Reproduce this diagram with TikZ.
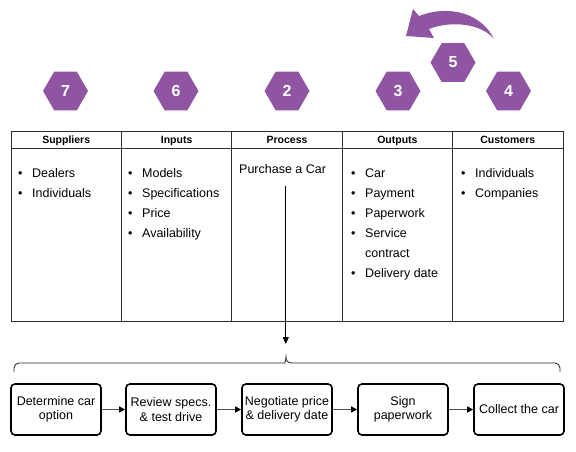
\documentclass[tikz,border=0pt]{standalone}
\usepackage{fontspec}
\setmainfont{Liberation Sans}
\usetikzlibrary{shapes.geometric,arrows.meta}
\definecolor{hexpurple}{RGB}{143,85,163}
\definecolor{tline}{RGB}{45,45,45}
\definecolor{flowgray}{RGB}{80,80,80}
\begin{document}
\begin{tikzpicture}[x=1pt,y=-1pt,
  hexnode/.style={regular polygon,regular polygon sides=6,minimum size=45pt,inner sep=0pt,
    fill=hexpurple,draw=none,text=white,font=\fontsize{16}{16}\selectfont\bfseries},
  hdrcell/.style={draw=tline,line width=0.9pt,minimum width=110.4pt,minimum height=17.5pt,inner sep=0pt,
    text height=7.5pt,text depth=0pt,font=\fontsize{10.5}{12}\selectfont\bfseries},
  bodycell/.style={draw=tline,line width=0.9pt,minimum width=110.4pt,minimum height=172.5pt,inner sep=0pt},
  listtext/.style={anchor=base west,inner sep=0pt,font=\fontsize{12.5}{20}\selectfont},
  stepbox/.style={draw=black,line width=1.6pt,rounded corners=4pt,minimum width=90pt,minimum height=51pt,
    inner sep=2pt,align=center,font=\fontsize{12.5}{14.5}\selectfont},
  flow/.style={draw=flowgray,line width=1pt,-{Triangle[length=6pt,width=6pt,color=black]}}]
\useasboundingbox (0,0) rectangle (576,451);

% hexagons
\node[hexnode] (h7) at (65.5,91) {7};
\node[hexnode] (h6) at (176,91) {6};
\node[hexnode] (h2) at (287,91) {2};
\node[hexnode] (h3) at (398,91) {3};
\node[hexnode] (h4) at (508.5,91) {4};
\node[hexnode] (h5) at (453,62.5) {5};

% curved arrow
\fill[hexpurple] (494,39) .. controls (482,14) and (450,4) .. (419,16)
  -- (413,9) -- (406,36) -- (434,38) -- (429,29)
  .. controls (452,20) and (482,24) .. (494,39) -- cycle;

% table header
\node[hdrcell] (c1h) at (66.2,139.75) {Suppliers};
\node[hdrcell] (c2h) at (176.6,139.75) {Inputs};
\node[hdrcell] (c3h) at (287,139.75) {Process};
\node[hdrcell] (c4h) at (397.4,139.75) {Outputs};
\node[hdrcell] (c5h) at (507.8,139.75) {Customers};
% table body
\node[bodycell] (c1b) at (66.2,234.75) {};
\node[bodycell] (c2b) at (176.6,234.75) {};
\node[bodycell] (c3b) at (287,234.75) {};
\node[bodycell] (c4b) at (397.4,234.75) {};
\node[bodycell] (c5b) at (507.8,234.75) {};

\node[listtext] (l1) at (18,177) {\begin{tabular}[t]{@{}l@{\hspace{9.6pt}}l@{}}•&Dealers\\•&Individuals\end{tabular}};
\node[listtext] (l2) at (128,177) {\begin{tabular}[t]{@{}l@{\hspace{9.6pt}}l@{}}•&Models\\•&Specifications\\•&Price\\•&Availability\end{tabular}};
\node[listtext] (l3) at (239,173.5) {Purchase a Car};
\node[listtext] (l4) at (351,177) {\begin{tabular}[t]{@{}l@{\hspace{9.6pt}}l@{}}•&Car\\•&Payment\\•&Paperwork\\•&Service\\&contract\\•&Delivery date\end{tabular}};
\node[listtext] (l5) at (461,177) {\begin{tabular}[t]{@{}l@{\hspace{9.6pt}}l@{}}•&Individuals\\•&Companies\end{tabular}};

% process arrow
\coordinate (ps) at (285.8,186);
\coordinate (pe) at (285.8,344);
\draw[draw=black,line width=0.9pt,-{Triangle[length=7pt,width=6pt]}] (ps) -- (pe);

% brace
\coordinate (bl) at (14,372);
\coordinate (br) at (560,372);
\coordinate (bm) at (286,357);
\draw[draw=tline,line width=0.9pt,rounded corners=5pt] (bl) -- (14,363)
  -- (280,363) [sharp corners] .. controls (284,363) and (286,361) .. (bm)
  .. controls (286,361) and (288,363) .. (292,363) [rounded corners=5pt]
  -- (560,363) -- (br);

% steps
\node[stepbox] (s1) at (56,409.5) {Determine car\\option};
\node[stepbox] (s2) at (171,409.5) {Review specs.\\\& test drive};
\node[stepbox] (s3) at (287,409.5) {Negotiate price\\\& delivery date};
\node[stepbox] (s4) at (403,409.5) {Sign\\paperwork};
\node[stepbox] (s5) at (519,409.5) {Collect the car};
\draw[flow] (s1) -- (s2);
\draw[flow] (s2) -- (s3);
\draw[flow] (s3) -- (s4);
\draw[flow] (s4) -- (s5);
\end{tikzpicture}
\end{document}
